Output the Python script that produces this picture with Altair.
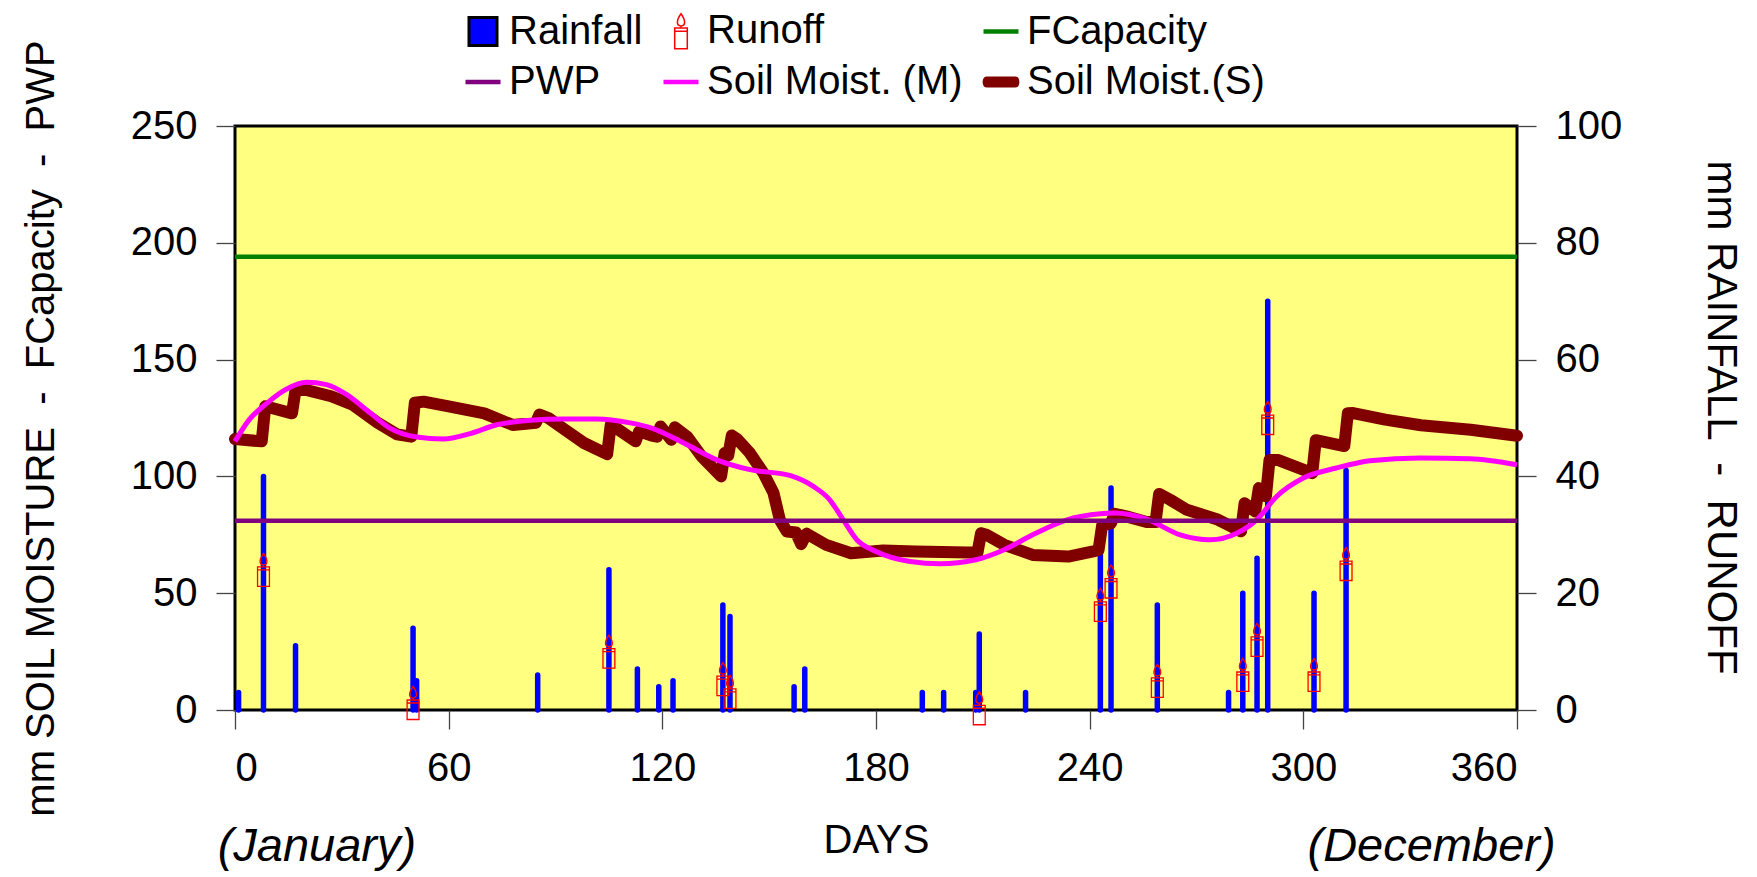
import altair as alt
import pandas as pd

FONT = "Liberation Sans"

# ---- data ----
rain_day = [1, 8, 17, 50, 51, 85, 105, 113, 119, 123, 137, 139, 157, 160, 193, 199,
            208, 209, 222, 243, 246, 259, 279, 283, 287, 290, 303, 312]
rain_mm = [3, 40, 11, 14, 5, 6, 24, 7, 4, 5, 18, 16, 4, 7, 3, 3,
           3, 13, 3, 27, 38, 18, 3, 20, 26, 70, 20, 41]

runoff_day = [8, 50, 105, 137, 139, 209, 243, 246, 259, 283, 287, 290, 303, 312]
runoff_mm = [24, 1.2, 10, 5.3, 3.1, 0.3, 18, 22, 5, 6, 12, 50, 6, 25]

s_day = [0, 7.5, 8.5, 16, 17, 20, 27, 33, 40, 45.5, 49.5, 50.5, 53, 60, 70, 78, 84.5, 85.5,
         88, 92, 98, 104.5, 105.5, 107, 112.5, 113.5, 117, 118.5, 119.5, 122.5, 123.5, 127,
         131, 136.5, 137.5, 138.5, 139.5, 141, 144.6, 148.4, 151.2, 153, 155, 157.5, 159,
         160.5, 166, 173, 182, 191, 206, 208.5, 209.5, 211, 216, 224, 234, 241, 242.5,
         243.5, 246, 247, 250, 256, 258.5, 259.5, 262.6, 267.3, 275.7, 282.5, 283.5, 286.5,
         287.5, 289.5, 290.5, 293, 302.5, 303.5, 309.5, 311.5, 312.5, 314, 323, 333, 347, 360]
s_val = [116, 115, 130, 127, 137, 137, 134.3, 130.7, 123, 118, 117, 131.5, 132, 130, 127, 122,
         123, 126.5, 125, 120.7, 114.3, 109.5, 122, 120.7, 115, 119.3, 117.5, 117, 121.4, 115.7,
         121, 117, 108.6, 100, 110, 109, 117.5, 116, 110, 101.4, 93, 81.4, 76.4, 76, 71,
         75.5, 70.7, 67.1, 68.3, 67.9, 67.4, 67.4, 75.7, 75, 70.7, 66.4, 65.7, 67.9, 68.5,
         79, 80, 84, 83, 80.5, 80.5, 92.5, 90, 85.7, 81.7, 76.5, 88.5, 85,
         95, 91.5, 107, 107, 101.4, 115.5, 113.6, 113, 127, 127.1, 124.3, 121.9, 120, 117.4]

m_day = [0, 4, 9, 14.5, 20, 25.7, 31.4, 38, 43.5, 51, 58.5, 66, 73.5, 82.8, 92, 101.6, 111,
         117, 126, 135.3, 144.6, 156, 162.4, 167, 170.8, 174.6, 180, 189.6, 198, 208, 216,
         224, 233.6, 243, 247, 256, 265.4, 273.8, 281.3, 286.9, 292.5, 300, 309.3, 318.7,
         332.8, 346.8, 360]
m_val = [115, 124.3, 131.4, 137.4, 140.3, 139.3, 135, 127.1, 120.7, 116.9, 116, 118.3, 122.1,
         124, 124.6, 124.6, 122.9, 120.7, 114.3, 107.1, 102.9, 100.3, 95.7, 90, 81.4, 72.9,
         67.9, 63.6, 62.6, 64.3, 68.6, 75, 81.4, 84, 84.3, 81.7, 75, 72.9, 75.7, 81.4, 91.4,
         99.3, 103.6, 106.7, 107.9, 107.6, 105]

fcapacity = 194
pwp = 81

# legend entries (listed column by column: the legend fills its 3 columns top to bottom)
series_names = ["Rainfall", "PWP", "Runoff", "Soil Moist. (M)", "FCapacity", "Soil Moist.(S)"]
series_fill = ["#0000FF", "#800080", "transparent", "#FF00FF", "#008000", "#800000"]
series_stroke = ["#000000", "#800080", "#FF0000", "#FF00FF", "#008000", "#800000"]
series_sw = [3, 0, 1.5, 0, 0, 0]

month_labels = ["(January)", "(December)"]
month_day = [23, 336]

x_ticks = [0, 60, 120, 180, 240, 300, 360]

# ---- shapes ----
CANDLE = ("M-0.36,-0.18 L0.36,-0.18 L0.36,1 L-0.36,1 Z "
          "M-0.36,0 L0.36,0 M0,-0.18 L0,-0.3 "
          "M0,-0.3 C-0.3,-0.32 -0.25,-0.65 0,-1 C0.25,-0.65 0.3,-0.32 0,-0.3 Z")
SQUARE = "M-0.8,-0.8 L0.8,-0.8 L0.8,0.8 L-0.8,0.8 Z"
THIN = "M-1,-0.13 L1,-0.13 L1,0.13 L-1,0.13 Z"
THICK = ("M-0.8,-0.32 L0.8,-0.32 Q1.05,-0.32 1.05,0 Q1.05,0.32 0.8,0.32 L-0.8,0.32 "
         "Q-1.05,0.32 -1.05,0 Q-1.05,-0.32 -0.8,-0.32 Z")
series_shape = [SQUARE, THIN, CANDLE, THIN, THIN, THICK]

# ---- tables ----
rain_df = pd.DataFrame({"day": rain_day, "mm": rain_mm, "zero": 0})
runoff_df = pd.DataFrame({"day": runoff_day, "mm": runoff_mm})
s_df = pd.DataFrame({"day": s_day, "v": s_val})
m_df = pd.DataFrame({"day": m_day, "v": m_val})
fc_df = pd.DataFrame({"v": [fcapacity]})
pwp_df = pd.DataFrame({"v": [pwp]})
leg_df = pd.DataFrame({"day": [-50] * len(series_names), "v": [100] * len(series_names),
                       "series": series_names})
month_df = pd.DataFrame({"day": month_day, "label": month_labels})

xenc = alt.X("day:Q", scale=alt.Scale(domain=[0, 360], nice=False, zero=False),
             axis=alt.Axis(values=x_ticks, title="DAYS", titleX=641, titleY=130,
                           titleBaseline="middle", titleAlign="center"))

left_axis = alt.Axis(orient="left", values=[0, 50, 100, 150, 200, 250],
                     title="mm SOIL MOISTURE \u00a0-\u00a0 FCapacity \u00a0-\u00a0 PWP",
                     titleAngle=270, titleX=-194, titleY=302, titleAlign="center",
                     titleBaseline="middle")
yleft = alt.Y("v:Q", scale=alt.Scale(domain=[0, 250], nice=False), axis=left_axis)

right_axis = alt.Axis(orient="right", values=[0, 20, 40, 60, 80, 100],
                      title="mm RAINFALL \u00a0-\u00a0 RUNOFF", titleFontSize=42,
                      titleAngle=90, titleX=203, titleY=291, titleAlign="center",
                      titleBaseline="middle")
yright = alt.Y("mm:Q", scale=alt.Scale(domain=[0, 100], nice=False), axis=right_axis)

bars = alt.Chart(rain_df).mark_rule(color="#0000FF", strokeWidth=5.5, strokeCap="round").encode(
    x=xenc, y=yright, y2=alt.Y2("zero:Q"))

candles = alt.Chart(runoff_df).mark_point(shape=CANDLE, filled=False, color="#FF0000",
                                          strokeWidth=1.3, size=1089, opacity=1).encode(
    x=xenc, y=alt.Y("mm:Q", scale=alt.Scale(domain=[0, 100], nice=False), axis=None))

s_line = alt.Chart(s_df).mark_line(color="#800000", strokeWidth=12, strokeJoin="round",
                                   strokeCap="round").encode(x=xenc, y=yleft)
m_line = alt.Chart(m_df).mark_line(color="#FF00FF", strokeWidth=5, interpolate="monotone").encode(
    x=xenc, y=yleft)
pwp_rule = alt.Chart(pwp_df).mark_rule(color="#800080", strokeWidth=4.5).encode(y=yleft)
fc_rule = alt.Chart(fc_df).mark_rule(color="#008000", strokeWidth=4.5).encode(y=yleft)

leg = alt.Legend(orient="none", legendX=228, legendY=-115, columns=3, title=None,
                 labelFont=FONT, labelFontSize=40, labelColor="black", labelLimit=600,
                 symbolSize=1225, rowPadding=10, columnPadding=18, labelOffset=6,
                 padding=0)
legend_layer = alt.Chart(leg_df).mark_point(filled=True, size=1225, clip=True, opacity=1).encode(
    x=xenc, y=yleft,
    fill=alt.Fill("series:N", scale=alt.Scale(domain=series_names, range=series_fill), legend=leg),
    stroke=alt.Stroke("series:N", scale=alt.Scale(domain=series_names, range=series_stroke), legend=leg),
    shape=alt.Shape("series:N", scale=alt.Scale(domain=series_names, range=series_shape), legend=leg),
    strokeWidth=alt.StrokeWidth("series:N", scale=alt.Scale(type="ordinal", domain=series_names,
                                                            range=series_sw), legend=leg),
)

left_layer = alt.layer(legend_layer, s_line, m_line, pwp_rule, fc_rule)

months = alt.Chart(month_df).mark_text(font=FONT, fontSize=47, fontStyle="italic",
                                       baseline="middle", align="center", color="black").encode(
    x=xenc, y=alt.value(721), text="label:N")

chart = alt.layer(bars, left_layer, candles, months).resolve_scale(y="independent").properties(
    width=1282, height=584,
    padding={"left": 227, "top": 118, "right": 232, "bottom": 167},
    autosize=alt.AutoSizeParams(type="none"),
).configure_view(fill="#FFFF80", stroke="black", strokeWidth=3).configure_axis(
    labelFont=FONT, titleFont=FONT, labelFontSize=40, titleFontSize=40,
    titleFontWeight="normal", tickSize=19, tickColor="#444444", tickWidth=1.3,
    labelPadding=19, domain=False, grid=False, labelColor="black", titleColor="black",
)

chart.save("out.html", embed_options={"renderer": "svg", "actions": False})
